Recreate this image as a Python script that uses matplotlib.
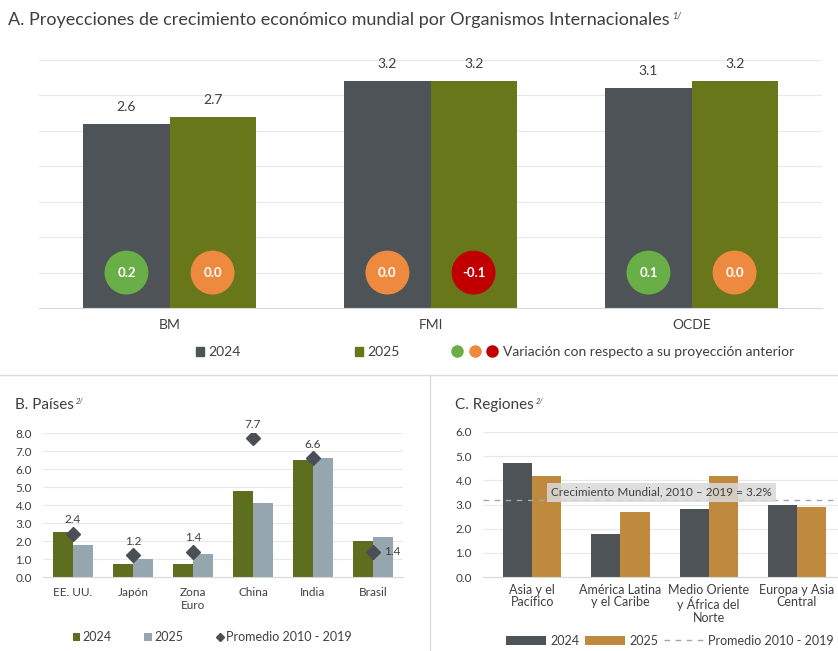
import numpy as np
import matplotlib.pyplot as plt
from matplotlib.patches import Patch
from matplotlib.lines import Line2D
from matplotlib.legend_handler import HandlerTuple

plt.rcParams['font.family'] = ['Lato', 'DejaVu Sans']

# =========================
# Datos
# =========================
# A. Organismos internacionales
organismos = ["BM", "FMI", "OCDE"]
org_2024 = [2.6, 3.2, 3.1]
org_2025 = [2.7, 3.2, 3.2]
var_2024 = [0.2, 0.0, 0.1]
var_2025 = [0.0, -0.1, 0.0]

# B. Países
paises = ["EE. UU.", "Japón", "Zona\nEuro", "China", "India", "Brasil"]
pais_2024 = [2.5, 0.7, 0.7, 4.8, 6.5, 2.0]
pais_2025 = [1.8, 1.0, 1.3, 4.1, 6.6, 2.2]
pais_prom = [2.4, 1.2, 1.4, 7.7, 6.6, 1.4]

# C. Regiones
regiones = ["Asia y el\nPacífico", "América Latina\ny el Caribe",
            "Medio Oriente\ny África del\nNorte", "Europa y Asia\nCentral"]
reg_2024 = [4.7, 1.8, 2.8, 3.0]
reg_2025 = [4.2, 2.7, 4.2, 2.9]
prom_mundial = 3.2

# =========================
# Colores
# =========================
GRIS = "#4d5357"
OLIVO = "#677719"
OLIVO_B = "#5d6f1f"
AZULGRIS = "#95a6ae"
NARANJA_C = "#c08a3e"
TXT = "#3f3f3f"
GRID = "#e8e8e8"


def color_var(v):
    if v > 0:
        return "#6aae47"
    if v < 0:
        return "#c00000"
    return "#ee8a3f"


def titulo(ax, x, y, texto, nota, size):
    # título del panel con la nota como superíndice pegado al final
    t = fig.text(x, y, texto, fontsize=size, color=TXT, va="center", ha="left")
    ax.annotate(nota, xy=(1, 0.75), xycoords=t, xytext=(1.5, 0),
                textcoords="offset points", fontsize=size * 0.5, color=TXT,
                ha="left", va="center", style="italic", annotation_clip=False)


fig = plt.figure(figsize=(8.38, 6.51), dpi=100)

# =========================
# Panel A
# =========================
axA = fig.add_axes([39 / 838, 343 / 651, 783 / 838, 248 / 651])
x = np.arange(len(organismos))
w = 0.33
b1 = axA.bar(x - w / 2, org_2024, w, color=GRIS, zorder=2)
b2 = axA.bar(x + w / 2, org_2025, w, color=OLIVO, zorder=2)
axA.set_xlim(-0.5, 2.5)
axA.set_ylim(0, 3.5)
axA.set_yticks(np.arange(0, 3.51, 0.5))
axA.yaxis.grid(True, color=GRID, lw=0.8, zorder=0)
axA.tick_params(axis="y", length=0, labelleft=False)
axA.tick_params(axis="x", length=0, labelsize=10, colors=TXT, pad=8)
axA.set_xticks(x)
axA.set_xticklabels(organismos)
for s in ["top", "right", "left"]:
    axA.spines[s].set_visible(False)
axA.spines["bottom"].set_color("#d9d9d9")

for bars, vals in ((b1, org_2024), (b2, org_2025)):
    for r, v in zip(bars, vals):
        axA.annotate(f"{v:.1f}", (r.get_x() + r.get_width() / 2, v),
                     xytext=(0, 8), textcoords="offset points",
                     ha="center", va="bottom", fontsize=10, color=TXT)

for off, vals in ((-w / 2, var_2024), (w / 2, var_2025)):
    xs = x + off
    axA.scatter(xs, [0.5] * len(xs), s=1000, c=[color_var(v) for v in vals],
                zorder=3, edgecolors="none")
    for xi, v in zip(xs, vals):
        axA.text(xi, 0.5, f"{v:.1f}", ha="center", va="center",
                 fontsize=9.5, color="white", fontweight="bold", zorder=4)

titulo(axA, 8 / 838, 1 - 20 / 651,
       "A. Proyecciones de crecimiento económico mundial por Organismos Internacionales",
       "1/", 13)

# leyenda A
kw = dict(frameon=False, fontsize=10, handlelength=0.6, handleheight=0.6,
          handletextpad=0.3, labelcolor=TXT)
fig.legend([Patch(color=GRIS)], ["2024"], loc="center left",
           bbox_to_anchor=(183 / 838, 1 - 352 / 651), **kw)
fig.legend([Patch(color=OLIVO)], ["2025"], loc="center left",
           bbox_to_anchor=(342 / 838, 1 - 352 / 651), **kw)
dots = tuple(Line2D([], [], ls="none", marker="o", ms=8, color=color_var(v))
             for v in (1, 0, -1))
fig.legend([dots], ["Variación con respecto a su proyección anterior"],
           handler_map={tuple: HandlerTuple(ndivide=None, pad=0.6)},
           loc="center left", bbox_to_anchor=(440 / 838, 1 - 352 / 651),
           frameon=False, fontsize=10, handlelength=3.2, handletextpad=0.4,
           labelcolor=TXT)

# separadores
fig.add_artist(Line2D([0, 1], [1 - 375 / 651] * 2, color="#dcdcdc", lw=1))
fig.add_artist(Line2D([430 / 838] * 2, [0, 1 - 375 / 651], color="#dcdcdc", lw=1))

# =========================
# Panel B
# =========================
axB = fig.add_axes([43 / 838, 74 / 651, 360 / 838, 144 / 651])
xb = np.arange(len(paises))
hb1 = axB.bar(xb - w / 2, pais_2024, w, color=OLIVO_B, zorder=2, label="2024")
hb2 = axB.bar(xb + w / 2, pais_2025, w, color=AZULGRIS, zorder=2, label="2025")
hb3, = axB.plot(xb, pais_prom, ls="none", marker="D", ms=7, color="#4a4f55",
                zorder=4, label="Promedio 2010 - 2019")
for xi, v in zip(xb, pais_prom):
    if xi == len(xb) - 1:
        axB.annotate(f"{v:.1f}", (xi, v), xytext=(8, 0),
                     textcoords="offset points", ha="left", va="center",
                     fontsize=8.5, color=TXT)
    else:
        axB.annotate(f"{v:.1f}", (xi, v), xytext=(0, 6),
                     textcoords="offset points", ha="center", va="bottom",
                     fontsize=8.5, color=TXT, annotation_clip=False)
axB.set_xlim(-0.5, 5.5)
axB.set_ylim(0, 8)
axB.set_yticks(np.arange(0, 8.1, 1))
axB.set_yticklabels([f"{v:.1f}" for v in np.arange(0, 8.1, 1)])
axB.yaxis.grid(True, color=GRID, lw=0.8, zorder=0)
axB.set_xticks(xb)
axB.set_xticklabels(paises)
axB.tick_params(axis="both", length=0, labelsize=8.5, colors=TXT)
axB.tick_params(axis="y", pad=8)
axB.tick_params(axis="x", pad=7)
for s in ["top", "right", "left"]:
    axB.spines[s].set_visible(False)
axB.spines["bottom"].set_color("#d9d9d9")
axB.legend([hb1, hb2, hb3], ["2024", "2025", "Promedio 2010 - 2019"],
           loc="center", bbox_to_anchor=(0.47, -0.42), ncol=3, frameon=False,
           fontsize=9, handlelength=0.6, handleheight=0.6, handletextpad=0.2,
           columnspacing=2.6, labelcolor=TXT, markerscale=0.55)
titulo(axB, 15 / 838, 1 - 405 / 651, "B. Países", "2/", 11)

# =========================
# Panel C
# =========================
axC = fig.add_axes([483 / 838, 74 / 651, 358 / 838, 145 / 651])
xc = np.arange(len(regiones))
hc1 = axC.bar(xc - w / 2, reg_2024, w, color=GRIS, zorder=2)
hc2 = axC.bar(xc + w / 2, reg_2025, w, color=NARANJA_C, zorder=2)
hc3 = axC.axhline(prom_mundial, color="#a6a6a6", lw=1, ls=(0, (4, 4)), zorder=3)
axC.text(1.47, 3.5, f"Crecimiento Mundial, 2010 – 2019 = {prom_mundial:.1f}%",
         ha="center", va="center", fontsize=8.5, color=TXT, zorder=5,
         bbox=dict(boxstyle="square,pad=0.35", fc="#d9d9d9", ec="none",
                   alpha=0.85))
axC.set_xlim(-0.557, 3.5)
axC.set_ylim(0, 6)
axC.set_yticks(np.arange(0, 6.1, 1))
axC.set_yticklabels([f"{v:.1f}" for v in np.arange(0, 6.1, 1)])
axC.yaxis.grid(True, color=GRID, lw=0.8, zorder=0)
axC.set_xticks(xc)
axC.set_xticklabels(regiones, linespacing=1.05)
axC.tick_params(axis="both", length=0, labelsize=8.5, colors=TXT)
axC.tick_params(axis="x", labelsize=9, pad=5)
axC.tick_params(axis="y", pad=8)
for s in ["top", "right", "left"]:
    axC.spines[s].set_visible(False)
axC.spines["bottom"].set_color("#d9d9d9")
axC.legend([hc1, hc2, hc3], ["2024", "2025", "Promedio 2010 - 2019"],
           loc="center left", bbox_to_anchor=(12 / 358, -0.44), ncol=3,
           frameon=False, fontsize=9, handlelength=3.2, handleheight=0.7,
           handletextpad=0.3, columnspacing=0.5, labelcolor=TXT)
titulo(axC, 455 / 838, 1 - 405 / 651, "C. Regiones", "2/", 11)

fig.savefig("out.png", dpi=100, facecolor="white")
